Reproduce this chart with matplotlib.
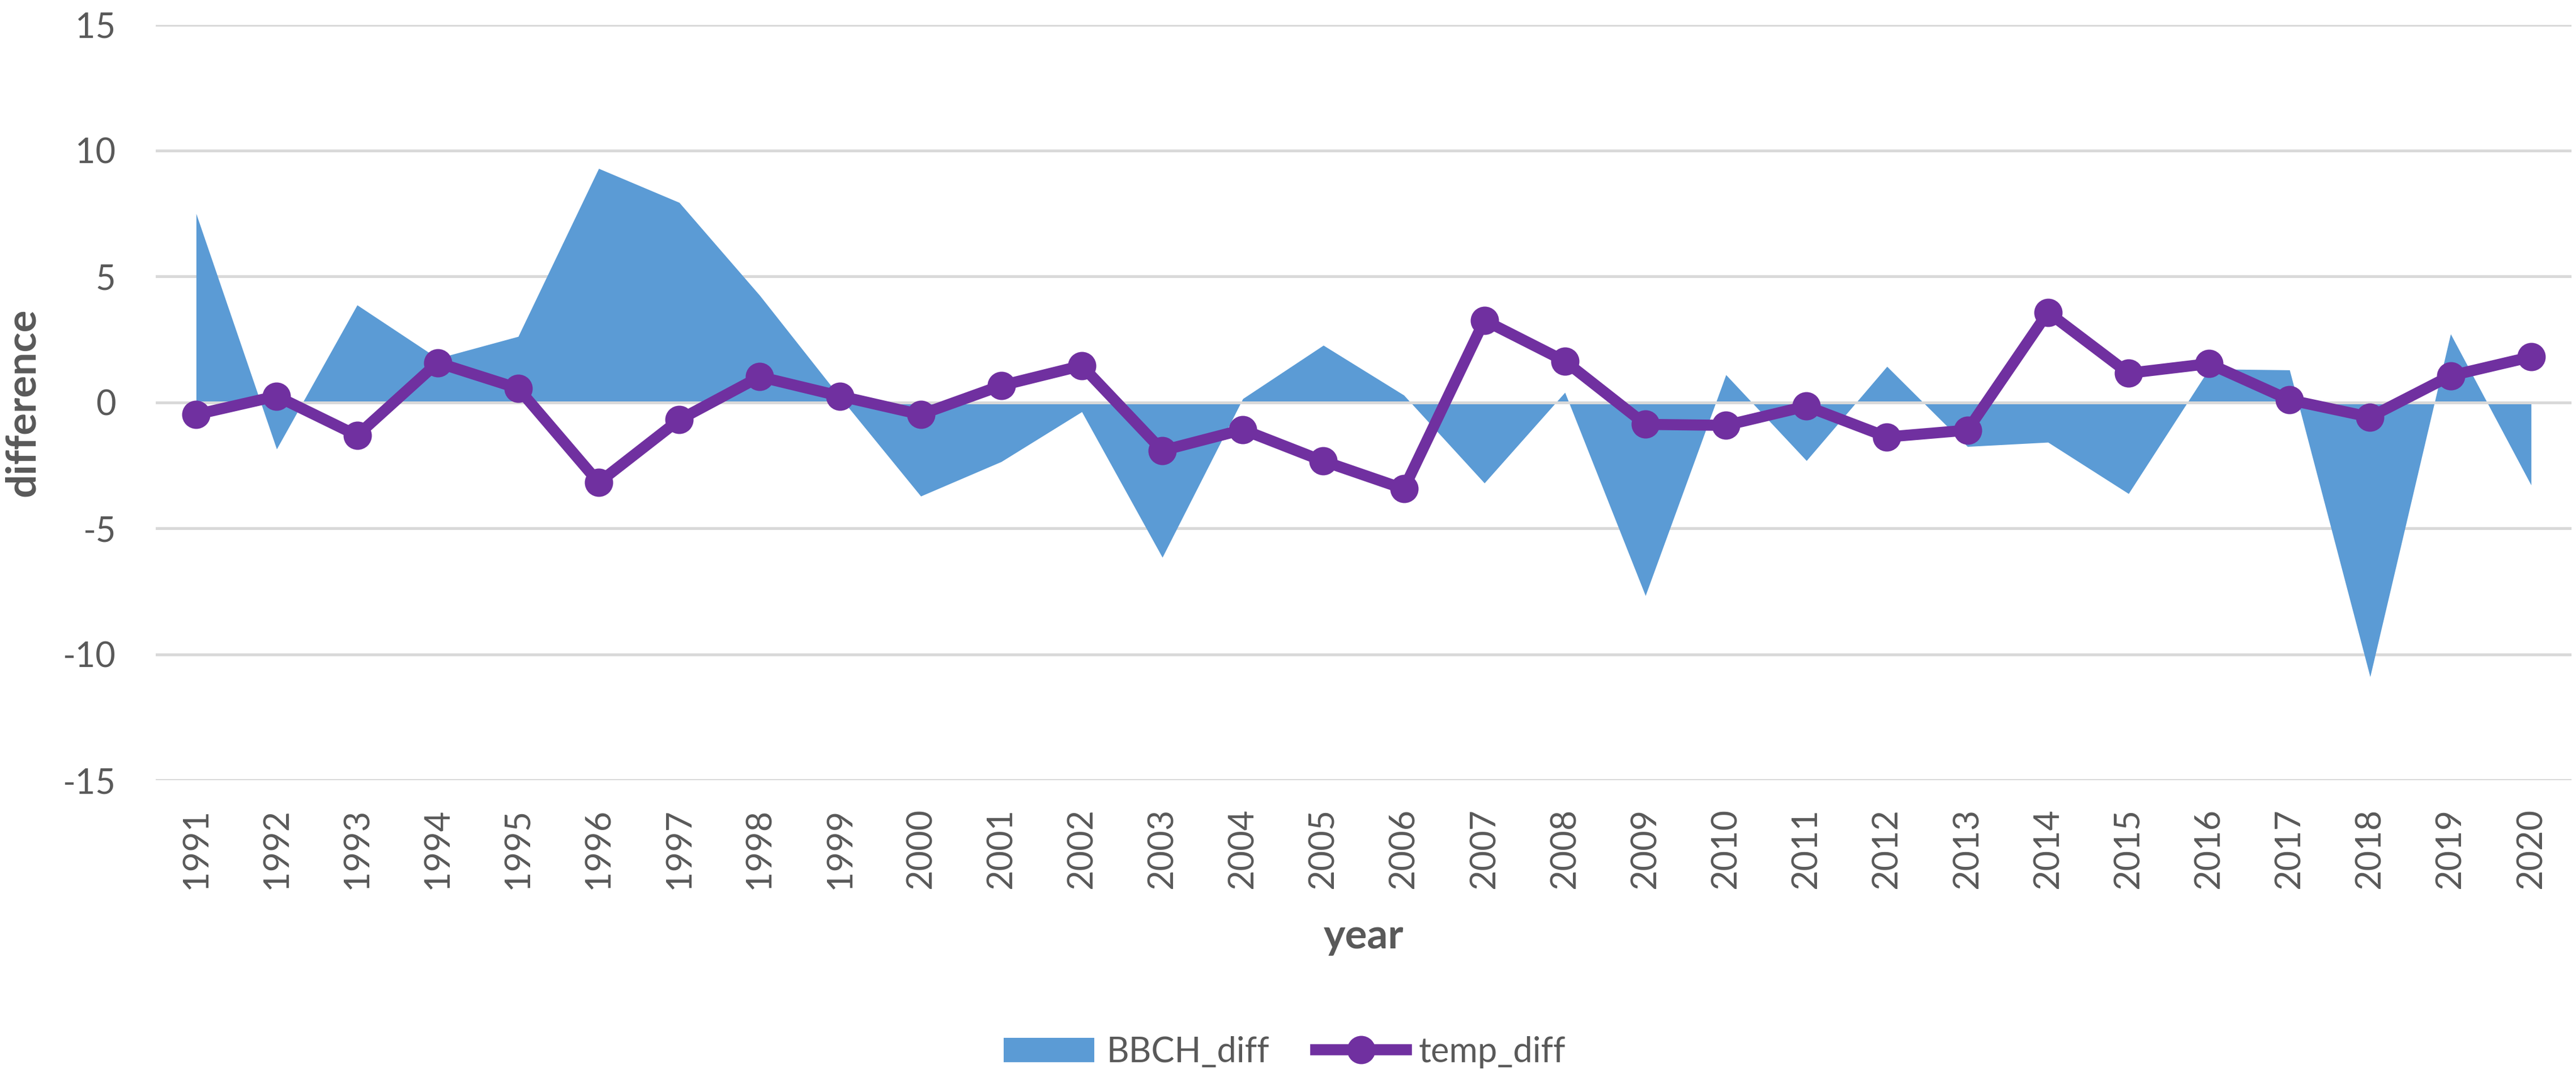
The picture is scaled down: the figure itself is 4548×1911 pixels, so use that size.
import matplotlib.pyplot as plt

# data
years = list(range(1991, 2021))
bbch_diff = [7.5, -1.85, 3.87, 1.75, 2.62, 9.29, 7.94, 4.25, 0.2, -3.72,
             -2.35, -0.37, -6.15, 0.15, 2.27, 0.29, -3.2, 0.4, -7.67, 1.1,
             -2.31, 1.43, -1.75, -1.58, -3.62, 1.33, 1.29, -10.89, 2.72, -3.28]
temp_diff = [-0.48, 0.25, -1.31, 1.58, 0.56, -3.18, -0.69, 1.02, 0.25, -0.48,
             0.67, 1.46, -1.91, -1.08, -2.33, -3.43, 3.26, 1.64, -0.87, -0.91,
             -0.15, -1.37, -1.10, 3.58, 1.16, 1.54, 0.1, -0.58, 1.06, 1.81]
y_ticks = [-15, -10, -5, 0, 5, 10, 15]

blue = '#5B9BD5'
purple = '#7030A0'
grey_text = '#595959'
grid_col = '#D9D9D9'

plt.rcParams['font.family'] = ['Lato', 'DejaVu Sans']

fig = plt.figure(figsize=(15.16, 6.37), dpi=300)
ax = fig.add_axes([0.0605, 0.2789, 0.9377, 0.6983])

x = list(range(len(years)))

ax.fill_between(x, 0, bbch_diff, color=blue, linewidth=0, zorder=1,
                label='BBCH_diff')
# zero axis line sits on top of the area
ax.axhline(0, color=grid_col, linewidth=1.2, zorder=2)
ax.plot(x, temp_diff, color=purple, linewidth=4.7, marker='o', markersize=11,
        zorder=3, label='temp_diff', solid_joinstyle='round')

ax.set_xlim(-0.5, len(years) - 0.5)
ax.set_ylim(-15, 15)
ax.set_yticks(y_ticks)
ax.set_yticklabels([str(v) for v in y_ticks])
ax.set_xticks(x)
ax.set_xticklabels([str(y) for y in years], rotation=90)

ax.set_axisbelow(True)
ax.yaxis.grid(True, color=grid_col, linewidth=1.2)
ax.xaxis.grid(False)
for s in ax.spines.values():
    s.set_visible(False)

ax.tick_params(axis='y', length=0, pad=17, labelsize=14.7, labelcolor=grey_text)
ax.tick_params(axis='x', length=0, pad=12, labelsize=14.7, labelcolor=grey_text)

fig.text(0.0088, 0.2789 + 0.6983 / 2, 'difference', rotation=90, ha='center',
         va='center', fontsize=17.5, fontweight='bold', color=grey_text)
fig.text(0.0605 + 0.9377 / 2, 0.134, 'year', ha='center', va='center',
         fontsize=17.5, fontweight='bold', color=grey_text)

leg = fig.legend(loc='center', bbox_to_anchor=(0.4987, 0.0277), ncol=2,
                 frameon=False, fontsize=14.7, handlelength=2.6,
                 handletextpad=0.35, columnspacing=1.35)
for t in leg.get_texts():
    t.set_color(grey_text)

fig.savefig('out.png', dpi=300, facecolor='white')
